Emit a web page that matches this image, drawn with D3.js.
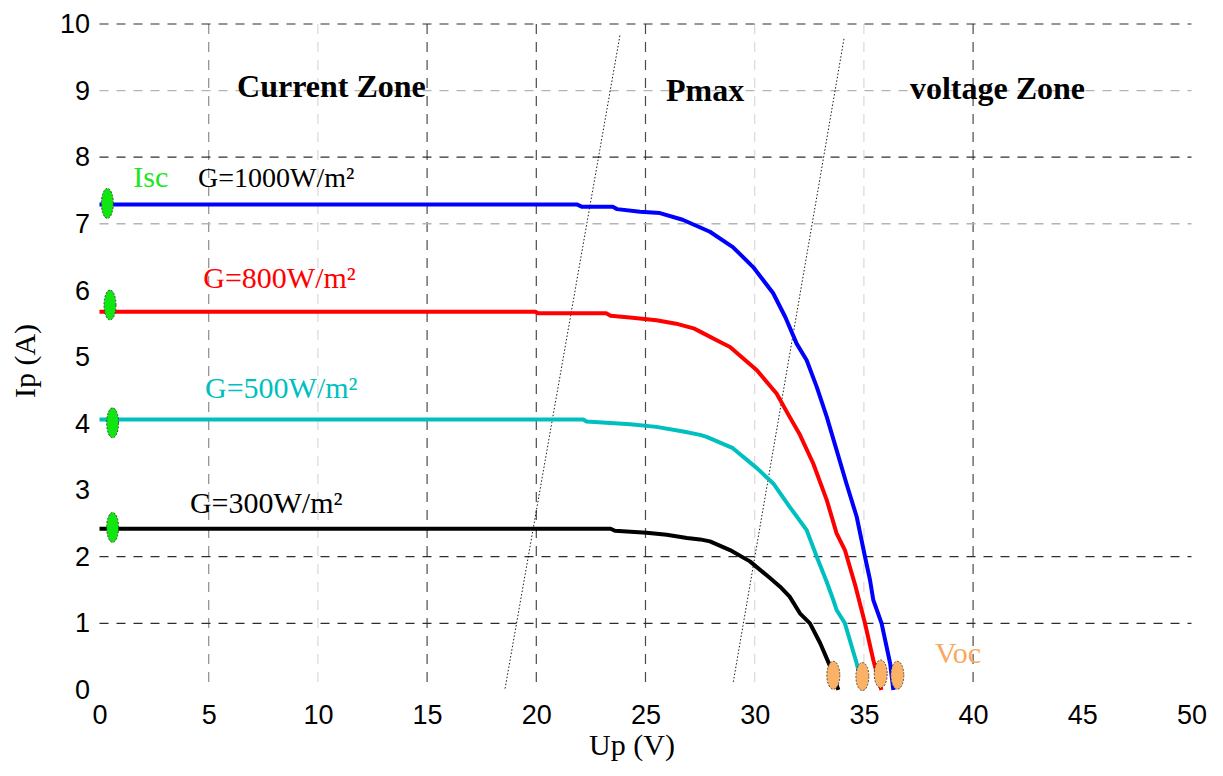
<!DOCTYPE html>
<html>
<head>
<meta charset="utf-8">
<script src="https://cdn.jsdelivr.net/npm/d3@7"></script>
<style>
  html, body { margin: 0; padding: 0; background: #fff; }
  svg { display: block; }
</style>
</head>
<body>
<svg id="chart" width="1223" height="776"></svg>
<script>
// ---------- data ----------
const xTicks = [0, 5, 10, 15, 20, 25, 30, 35, 40, 45, 50];
const yTicks = [0, 1, 2, 3, 4, 5, 6, 7, 8, 9, 10];
const gridXDark = [15, 20, 25, 40];
const gridXMid = [5];
const gridXLight = [10, 30, 35];
const gridYDark = [10, 8, 2, 1];
const gridYLight = [9, 7];

const seriesNames = ["G=1000W/m²", "G=800W/m²", "G=500W/m²", "G=300W/m²"];

const curve1000 = [[0,7.29],[21.85,7.29],[22.1,7.255],[23.5,7.255],[23.7,7.22],[24.75,7.18],[25.66,7.16],[26.7,7.06],[27.95,6.88],[29.0,6.65],[29.93,6.35],[30.84,5.96],[31.4,5.6],[31.92,5.2],[32.38,4.95],[32.84,4.55],[33.3,4.10],[33.75,3.60],[34.2,3.1],[34.67,2.6],[35.05,2.0],[35.28,1.65],[35.43,1.35],[35.81,1.0],[36.2,0.4],[36.35,0.0]];
const curve800 = [[0,5.68],[19.94,5.68],[20.1,5.655],[23.2,5.655],[23.4,5.62],[24.4,5.59],[25.5,5.55],[26.4,5.50],[27.2,5.43],[27.5,5.38],[28.26,5.25],[28.87,5.15],[30.1,4.80],[31.0,4.45],[31.6,4.10],[32.07,3.83],[32.68,3.40],[33.3,2.85],[33.75,2.35],[34.13,2.10],[34.62,1.55],[35.05,1.0],[35.43,0.45],[35.8,0.0]];
const curve500 = [[0,4.06],[22.15,4.06],[22.3,4.03],[24.3,3.99],[25.5,3.95],[26.73,3.88],[27.5,3.83],[27.8,3.80],[29.0,3.63],[30.1,3.33],[30.85,3.10],[31.6,2.75],[32.38,2.40],[32.84,2.0],[33.3,1.62],[33.6,1.35],[33.75,1.2],[34.13,1.0],[34.67,0.4],[34.97,0.0]];
const curve300 = [[0,2.42],[23.4,2.42],[23.6,2.39],[25.05,2.36],[25.97,2.33],[26.9,2.28],[27.5,2.26],[27.95,2.23],[28.87,2.10],[29.78,1.93],[30.7,1.68],[31.16,1.55],[31.6,1.40],[32.07,1.15],[32.53,1.0],[33.0,0.70],[33.46,0.35],[33.83,0.0]];

const iscPoints = [[0.36,7.306],[0.48,5.78],[0.6,4.01],[0.6,2.44]];
const vocPoints = [[33.6,0.22],[34.93,0.20],[35.77,0.24],[36.53,0.22]];

const pmaxLine1 = [[18.57,0.02],[23.83,9.83]];
const pmaxLine2 = [[29.02,0.12],[34.1,9.80]];

// ---------- layout ----------
const svg = d3.select("#chart");
const x = d3.scaleLinear().domain([0, 50]).range([99.5, 1191.5]);
const y = d3.scaleLinear().domain([0, 10]).range([689.9, 24]);

const SANS = "'Liberation Sans', Arial, sans-serif";
const SERIF = "'Liberation Serif', 'Times New Roman', serif";

// grid
const grid = svg.append("g");
function vgrid(vals, color, w) {
  grid.selectAll(null).data(vals).enter().append("line")
    .attr("x1", d => x(d)).attr("x2", d => x(d))
    .attr("y1", y(10)).attr("y2", y(0))
    .attr("stroke", color).attr("stroke-width", w)
    .attr("stroke-dasharray", "10,8");
}
function hgrid(vals, color, w) {
  grid.selectAll(null).data(vals).enter().append("line")
    .attr("x1", x(0)).attr("x2", x(50))
    .attr("y1", d => y(d)).attr("y2", d => y(d))
    .attr("stroke", color).attr("stroke-width", w)
    .attr("stroke-dasharray", "9,8");
}
vgrid(gridXLight, "#dcdcdc", 1.3);
vgrid(gridXMid, "#8c8c8c", 1.2);
vgrid(gridXDark, "#4a4a4a", 1.2);
hgrid(gridYLight, "#b4b4b4", 1.3);
hgrid(gridYDark, "#2e2e2e", 1.2);

// axes (labels only)
const xAxis = svg.append("g").attr("transform", `translate(0,${y(0)})`)
  .call(d3.axisBottom(x).tickValues(xTicks).tickSize(0).tickPadding(14.8).tickFormat(d3.format("d")));
const yAxis = svg.append("g").attr("transform", `translate(${x(0)},0)`)
  .call(d3.axisLeft(y).tickValues(yTicks).tickSize(0).tickPadding(9.5).tickFormat(d3.format("d")));
[xAxis, yAxis].forEach(a => {
  a.select(".domain").remove();
  a.selectAll("text").attr("font-family", SANS).attr("font-size", 27).attr("fill", "#000");
});

// axis titles
svg.append("text").attr("x", 632).attr("y", 755)
  .attr("text-anchor", "middle").attr("font-family", SERIF).attr("font-size", 30)
  .text("Up (V)");
svg.append("text").attr("transform", "translate(35,361) rotate(-90)")
  .attr("text-anchor", "middle").attr("font-family", SERIF).attr("font-size", 30)
  .text("Ip (A)");

// pmax dotted lines
const line = d3.line().x(d => x(d[0])).y(d => y(d[1]));
[pmaxLine1, pmaxLine2].forEach(p => {
  svg.append("path").attr("d", line(p)).attr("fill", "none")
    .attr("stroke", "#000").attr("stroke-width", 0.9).attr("stroke-dasharray", "1.5,2");
});

// curves
const curves = [curve1000, curve800, curve500, curve300];
const colors = ["#0000ff", "#ff0000", "#00bfbf", "#000000"];
svg.append("g").selectAll("path").data(curves).enter().append("path")
  .attr("d", d => line(d))
  .attr("fill", "none")
  .attr("stroke", (d, i) => colors[i])
  .attr("stroke-width", 4)
  .attr("stroke-linejoin", "round");

// markers
svg.append("g").selectAll("ellipse").data(iscPoints).enter().append("ellipse")
  .attr("cx", d => x(d[0])).attr("cy", d => y(d[1]))
  .attr("rx", 6).attr("ry", 15)
  .attr("fill", "#12e612").attr("stroke", "#2a2a2a").attr("stroke-width", 0.8)
  .attr("stroke-dasharray", "2,1.5");
svg.append("g").selectAll("ellipse").data(vocPoints).enter().append("ellipse")
  .attr("cx", d => x(d[0])).attr("cy", d => y(d[1]))
  .attr("rx", 6.5).attr("ry", 14)
  .attr("fill", "#fbb266").attr("stroke", "#2a2a2a").attr("stroke-width", 0.8)
  .attr("stroke-dasharray", "2,1.5");

// series labels
const labelPos = [[4.51, 7.555, 28], [4.75, 6.03, 30], [4.83, 4.38, 30], [4.14, 2.65, 30]];
const labelColors = ["#000000", "#ff0000", "#00bfbf", "#000000"];
seriesNames.forEach((n, i) => {
  svg.append("text").attr("x", x(labelPos[i][0])).attr("y", y(labelPos[i][1]))
    .attr("font-family", SERIF).attr("font-size", labelPos[i][2])
    .attr("fill", labelColors[i]).text(n);
});
svg.append("text").attr("x", x(1.55)).attr("y", y(7.555))
  .attr("font-family", SERIF).attr("font-size", 30).attr("fill", "#1ee61e").text("Isc");
svg.append("text").attr("x", x(38.25)).attr("y", y(0.40))
  .attr("font-family", SERIF).attr("font-size", 30).attr("fill", "#f9a85e").text("Voc");

// zone labels
const zones = [["Current Zone", 6.3, 8.9], ["Pmax", 25.94, 8.85], ["voltage Zone", 37.11, 8.87]];
zones.forEach(z => {
  svg.append("text").attr("x", x(z[1])).attr("y", y(z[2]))
    .attr("font-family", SERIF).attr("font-size", 32).attr("font-weight", "bold")
    .attr("fill", "#000").text(z[0]);
});
</script>
</body>
</html>
